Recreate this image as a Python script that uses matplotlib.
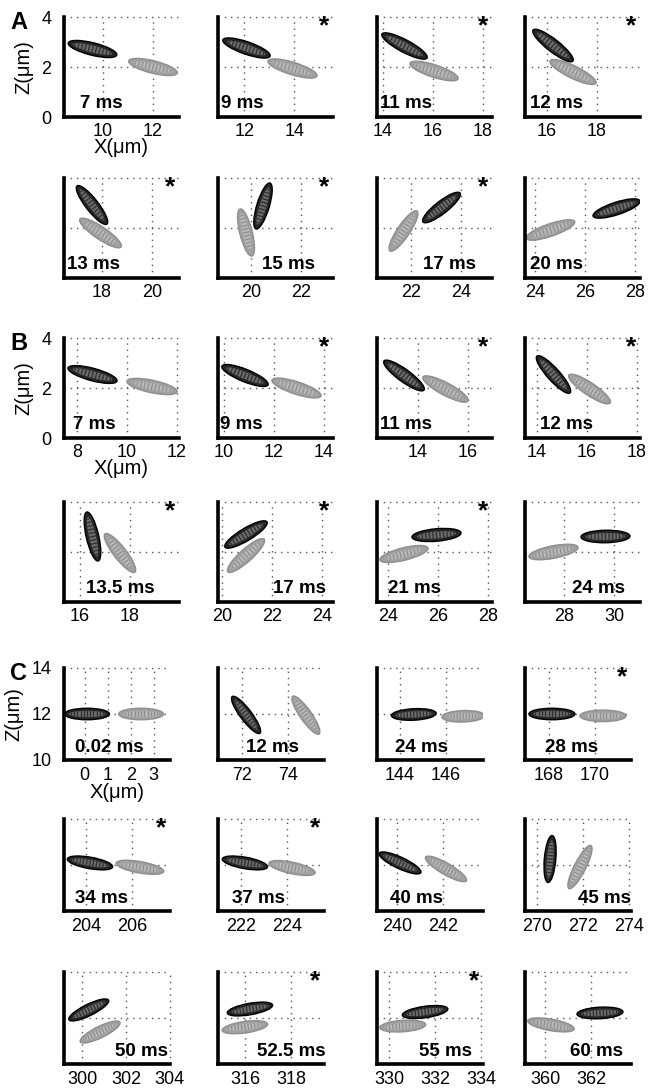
import numpy as np
import matplotlib
matplotlib.use('Agg')
import matplotlib.pyplot as plt
from matplotlib.patches import Ellipse

plt.rcParams['font.family'] = ['Liberation Sans', 'DejaVu Sans']

# ---- data ----
# section A
a_times = ['7 ms', '9 ms', '11 ms', '12 ms', '13 ms', '15 ms', '17 ms', '20 ms']
a_xmin = [8.44, 10.95, 13.76, 15.12, 16.48, 18.68, 20.64, 23.6]
a_xticks = [[10, 12], [12, 14], [14, 16, 18], [16, 18], [18, 20], [20, 22], [22, 24], [24, 26, 28]]
a_black = [(9.58, 2.72, -14, 2.0), (12.09, 2.76, -19, 2.0), (14.86, 2.84, -28, 2.04), (16.24, 2.86, -38, 2.02),
           (17.6, 2.92, -52, 1.94), (20.48, 2.88, 73, 1.92), (23.22, 2.82, 38, 1.88), (27.26, 2.78, 18, 1.97)]
a_gray = [(12.0, 2.0, -14, 2.0), (13.93, 1.94, -17, 2.05), (16.04, 1.84, -18, 2.02), (17.04, 1.80, -26, 2.04),
          (17.94, 1.80, -34, 1.99), (19.8, 1.82, -76, 1.94), (21.7, 1.88, 56, 1.93), (24.62, 1.92, 19, 2.05)]
a_star = [0, 1, 1, 1, 1, 1, 1, 0]

# section B
b_times = ['7 ms', '9 ms', '11 ms', '12 ms', '13.5 ms', '17 ms', '21 ms', '24 ms']
b_xmin = [7.48, 9.76, 12.36, 13.52, 15.36, 19.84, 23.56, 26.44]
b_xticks = [[8, 10, 12], [10, 12, 14], [14, 16], [14, 16, 18], [16, 18], [20, 22, 24], [24, 26, 28], [28, 30]]
b_black = [(8.62, 2.54, -15, 2.03), (10.84, 2.5, -22, 1.99), (13.44, 2.5, -36, 1.98), (14.66, 2.54, -48, 1.98),
           (16.5, 2.62, -77, 2.01), (20.96, 2.7, 31, 1.96), (25.94, 2.68, 5, 1.97), (29.66, 2.62, 1, 1.96)]
b_gray = [(11.0, 2.06, -12, 2.05), (12.9, 2.0, -18, 2.06), (15.1, 1.96, -28, 2.04), (16.1, 1.96, -34, 1.99),
          (17.6, 1.96, -52, 1.94), (20.96, 1.86, 42, 1.95), (24.64, 1.92, 14, 1.98), (27.58, 2.0, 11, 2.0)]
b_star = [0, 1, 1, 1, 1, 1, 1, 0]

# section C
c_times = ['0.02 ms', '12 ms', '24 ms', '28 ms', '34 ms', '37 ms', '40 ms', '45 ms',
           '50 ms', '52.5 ms', '55 ms', '60 ms']
c_xmin = [-0.9, 70.96, 143.0, 166.96, 203.04, 221.0, 239.13, 269.48, 299.17, 314.83, 329.48, 359.13]
c_xticks = [[0, 1, 2, 3], [72, 74], [144, 146], [168, 170], [204, 206], [222, 224], [240, 242],
            [270, 272, 274], [300, 302, 304], [316, 318], [330, 332, 334], [360, 362]]
c_black = [(0.1, 12.0, 0, 1.95), (72.18, 11.96, -53, 2.0), (144.6, 11.98, 3, 1.95), (168.13, 12.0, 0, 2.0),
           (204.17, 12.09, -10, 2.0), (222.17, 12.09, -10, 2.0), (240.13, 12.09, -25, 2.0), (270.57, 12.26, 85, 2.05),
           (300.3, 12.35, 25, 2.0), (316.22, 12.39, 10, 2.0), (331.57, 12.26, 8, 2.0), (362.39, 12.22, 3, 2.0)]
c_gray = [(2.45, 12.0, 0, 1.95), (74.78, 11.95, -55, 2.0), (146.75, 11.9, 2, 1.85), (170.35, 11.92, 0, 2.0),
          (206.34, 11.9, -10, 2.1), (224.22, 11.87, -12, 2.05), (242.13, 11.83, -30, 2.05), (271.87, 11.91, 63, 2.1),
          (300.82, 11.39, 25, 2.0), (316.0, 11.6, 8, 2.0), (330.6, 11.65, 4, 2.0), (360.26, 11.70, -10, 2.05)]
c_star = [0, 0, 0, 1, 1, 1, 0, 0, 0, 1, 1, 0]

# ---- layout (pixels) ----
W, H = 649, 1090
col_left = [64, 218, 377, 525]
label_x = {'A': [0.14, 0.03, 0.03, 0.04, 0.03, 0.38, 0.40, 0.04],
           'B': [0.08, 0.02, 0.03, 0.13, 0.19, 0.48, 0.10, 0.41],
           'C': [0.10, 0.26, 0.17, 0.19, 0.10, 0.13, 0.12, 0.50, 0.48, 0.37, 0.40, 0.43]}

sections = [
    # name, row bottoms, px per um, ylim, yticks, data
    ('A', [117, 278], 25, (0, 4), [0, 2, 4], a_times, a_xmin, a_xticks, a_black, a_gray, a_star),
    ('B', [438, 602], 25, (0, 4), [0, 2, 4], b_times, b_xmin, b_xticks, b_black, b_gray, b_star),
    ('C', [760, 911, 1064], 23, (10, 14), [10, 12, 14], c_times, c_xmin, c_xticks, c_black, c_gray, c_star),
]

CELL_W = 0.5


def draw_cell(ax, x, z, ang, length, dark):
    if dark:
        face, edge, inner, stripe = '#262626', '#000000', '#6b6b6b', '#2e2e2e'
    else:
        face, edge, inner, stripe = '#a0a0a0', '#8e8e8e', '#b8b8b8', '#8e8e8e'
    ax.add_patch(Ellipse((x, z), length, CELL_W, angle=ang, fc=face, ec=edge, lw=1.0, zorder=3))
    core = Ellipse((x, z), length * 0.8, CELL_W * 0.55, angle=ang, fc=inner, ec='none', zorder=4)
    ax.add_patch(core)
    a = np.radians(ang)
    u = np.array([np.cos(a), np.sin(a)])
    v = np.array([-np.sin(a), np.cos(a)])
    c = np.array([x, z])
    for t in np.linspace(-0.36, 0.36, 11) * length:
        p0 = c + t * u - CELL_W * v
        p1 = c + t * u + CELL_W * v
        ln, = ax.plot([p0[0], p1[0]], [p0[1], p1[1]], color=stripe, lw=0.9, zorder=5)
        ln.set_clip_path(core)


fig = plt.figure(figsize=(W / 100, H / 100), dpi=100)

for name, bottoms, scale, ylim, yticks, times, xmin, xticks, black, gray, star in sections:
    aw = 4.6 * scale
    ah = 4.0 * scale
    for i in range(len(times)):
        r, c = divmod(i, 4)
        left = col_left[c]
        bottom = bottoms[r]
        ax = fig.add_axes([left / W, 1 - bottom / H, aw / W, ah / H])
        ax.set_xlim(xmin[i], xmin[i] + 4.6)
        ax.set_ylim(*ylim)
        ax.set_xticks(xticks[i])
        ax.set_yticks(yticks)
        ax.grid(True, linestyle=(0, (1, 3.5)), color='#555555', lw=1.0, clip_on=False)
        ax.set_axisbelow(True)
        for s in ['top', 'right']:
            ax.spines[s].set_visible(False)
        for s in ['left', 'bottom']:
            ax.spines[s].set_linewidth(2.6)
            ax.spines[s].set_zorder(6)
        ax.tick_params(length=0, labelsize=13)
        ax.tick_params(axis='x', pad=5 if name == 'C' else 4)
        ax.tick_params(axis='y', pad=9)
        if i == 0:
            ax.set_xlabel('X(\u03bcm)', fontsize=14.5, labelpad=-1)
            ax.set_ylabel('Z(\u03bcm)', fontsize=14.5, labelpad=6)
        else:
            ax.set_yticklabels([])

        draw_cell(ax, *gray[i], dark=False)
        draw_cell(ax, *black[i], dark=True)

        ax.text(label_x[name][i], 0.09, times[i], transform=ax.transAxes, fontsize=13.5,
                fontweight='bold', ha='left', va='baseline', zorder=7)
        if star[i]:
            ax.text(0.92, 1.03, '*', transform=ax.transAxes, fontsize=19, fontweight='bold',
                    ha='center', va='top', zorder=7)

    top_px = bottoms[0] - ah
    fig.text(10 / W, 1 - (top_px - 6) / H, name, fontsize=17, fontweight='bold', ha='left', va='top')

fig.savefig('out.png', dpi=100)
